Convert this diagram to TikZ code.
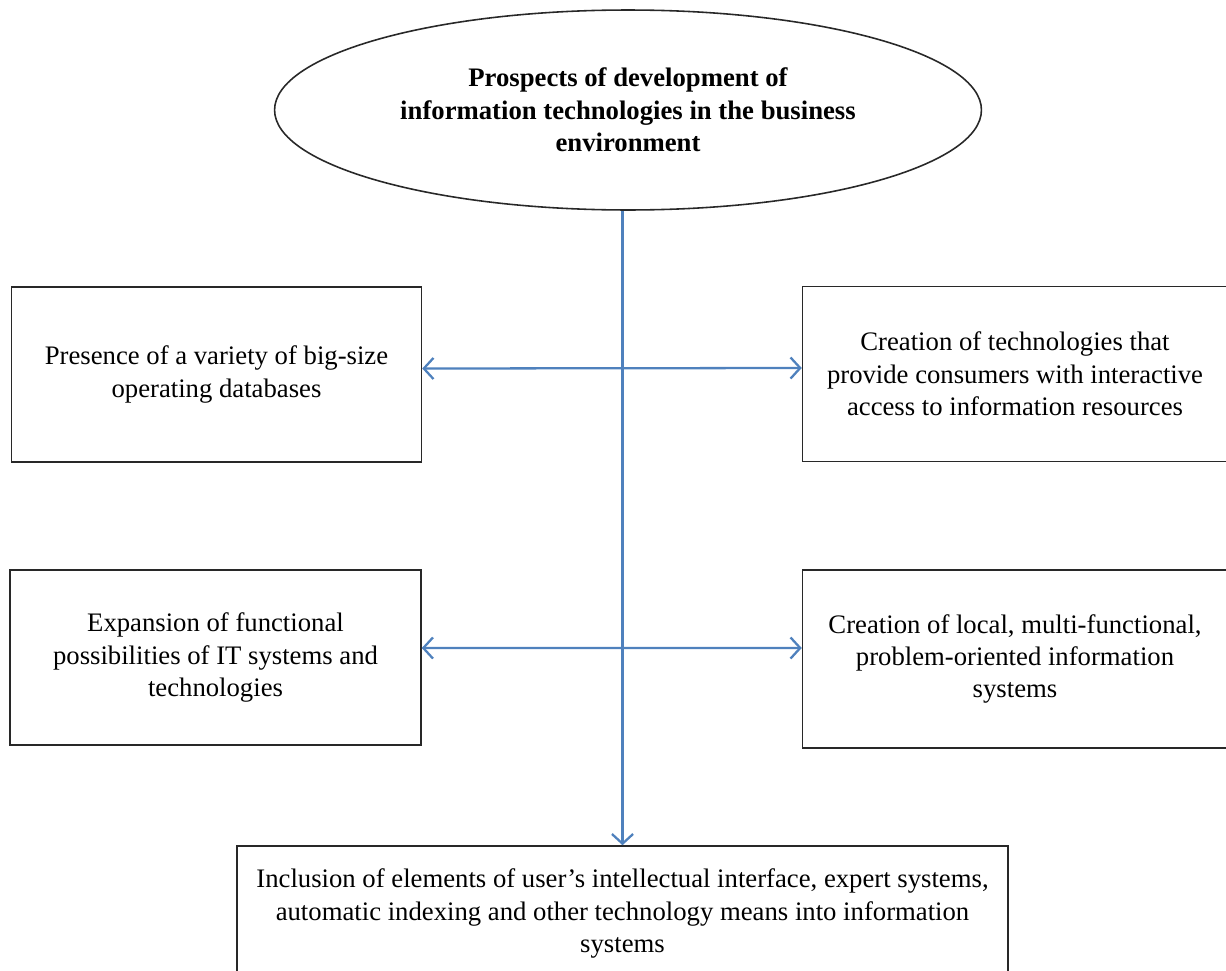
\documentclass[tikz,border=0pt]{standalone}
\usepackage{fontspec}
\setmainfont{Liberation Serif}
\usetikzlibrary{shapes.geometric,arrows.meta,positioning}
\definecolor{linkblue}{RGB}{79,129,189}
\definecolor{edge}{RGB}{40,40,40}

\begin{document}
\begin{tikzpicture}[x=0.02cm,y=-0.02cm,
  bx/.style={draw=edge,line width=0.9pt,minimum width=8.2cm,minimum height=3.5cm,
             font=\fontsize{15.2}{18.4}\selectfont,align=center},
  el/.style={draw=edge,ellipse,line width=0.9pt,minimum width=14.14cm,minimum height=4cm,
             font=\fontsize{15.2}{18.4}\selectfont\bfseries,align=center},
  ar/.style={line width=1.3pt,color=linkblue,>={Straight Barb[length=5.5pt,width=12pt]}}
]
\useasboundingbox (0,0) rectangle (1226,970);

\node[el] (prosp) at (628,110) {Prospects of development of\\information technologies in the business\\environment};

\node[bx] (pres)  at (216.5,374.5) {Presence of a variety of big-size\\operating databases};
\node[bx,minimum width=8.5cm] (creat) at (1015,374) {Creation of technologies that\\provide consumers with interactive\\access to information resources};
\node[bx,minimum width=8.22cm] (expan) at (215.5,657.5) {Expansion of functional\\possibilities of IT systems and\\technologies};
\node[bx,minimum width=8.5cm,minimum height=3.56cm] (local) at (1015,659) {Creation of local, multi-functional,\\problem-oriented information\\systems};
\node[bx,minimum width=15.42cm,minimum height=2.7cm] (incl) at (622.5,913.5) {Inclusion of elements of user's intellectual interface, expert systems,\\automatic indexing and other technology means into information\\systems};

% main axis
\draw[ar,->] (incl.north |- prosp.south) -- (incl.north);

% side links
\draw[ar,<->] ([yshift=0.12cm]pres.east) -- ([yshift=0.12cm]creat.west);
\draw[ar,<->] ([yshift=0.19cm]expan.east) -- ([yshift=0.22cm]local.west);

\end{tikzpicture}
\end{document}
